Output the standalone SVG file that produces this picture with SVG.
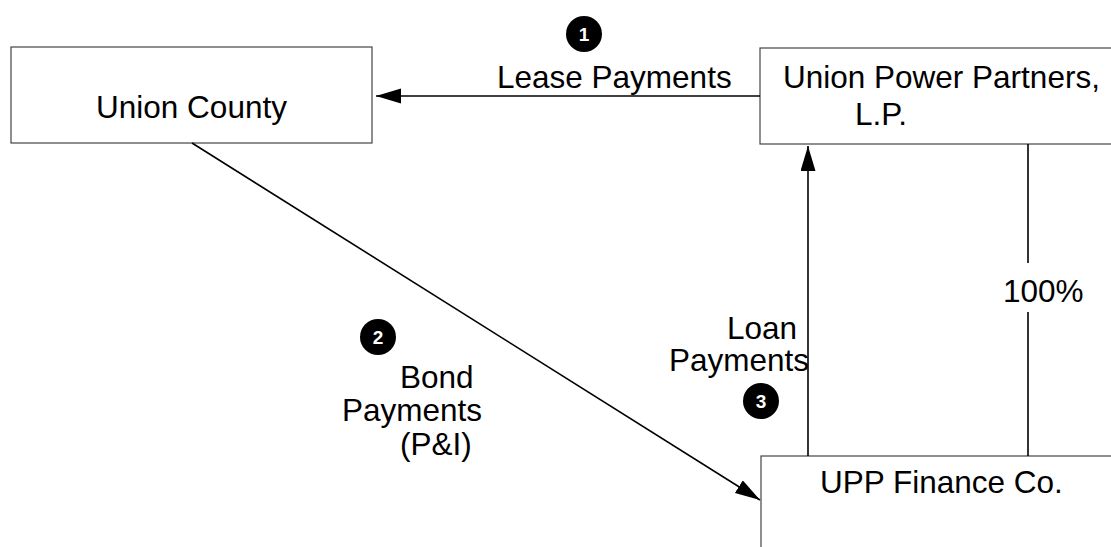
<svg xmlns="http://www.w3.org/2000/svg" width="1111" height="547" viewBox="0 0 1111 547">
<defs>
<style>
.box{fill:#fff;stroke:#444;stroke-width:1.2}
.lbl{font-family:"Liberation Sans",Arial,sans-serif;font-size:31.5px;fill:#000}
.conn{stroke:#000;stroke-width:1.6;fill:none}
.badge{fill:#000}
.num{font-family:"Liberation Sans",Arial,sans-serif;font-size:19px;font-weight:bold;fill:#fff;text-anchor:middle}
</style>
<marker id="arr" markerUnits="userSpaceOnUse" markerWidth="26" markerHeight="16" refX="25" refY="7.5" orient="auto">
<path d="M0,0 L25,7.5 L0,15 Z" fill="#000"/>
</marker>
</defs>
<rect width="1111" height="547" fill="#fff"/>
<g id="union-county">
<rect class="box" x="11" y="47" width="361" height="96"/>
<text class="lbl" x="191.5" y="118" text-anchor="middle">Union County</text>
</g>
<g id="union-power-partners">
<rect class="box" x="760" y="48" width="360" height="96"/>
<text class="lbl" x="783" y="88">Union Power Partners,</text>
<text class="lbl" x="855" y="125">L.P.</text>
</g>
<g id="upp-finance">
<rect class="box" x="761" y="456" width="360" height="100"/>
<text class="lbl" x="820" y="493">UPP Finance Co.</text>
</g>
<g id="connectors">
<line class="conn" x1="760" y1="96" x2="376" y2="96" marker-end="url(#arr)"/>
<line class="conn" x1="808" y1="456" x2="808" y2="146" marker-end="url(#arr)"/>
<line class="conn" x1="192" y1="143" x2="760" y2="500" marker-end="url(#arr)"/>
<line class="conn" x1="1028" y1="144" x2="1028" y2="263"/>
<line class="conn" x1="1028" y1="312" x2="1028" y2="456"/>
</g>
<g id="labels">
<text class="lbl" x="497" y="88">Lease Payments</text>
<text class="lbl" x="400" y="388">Bond</text>
<text class="lbl" x="342" y="421">Payments</text>
<text class="lbl" x="400" y="455">(P&amp;I)</text>
<text class="lbl" x="797" y="339" text-anchor="end">Loan</text>
<text class="lbl" x="809" y="371" text-anchor="end">Payments</text>
<text class="lbl" x="1003" y="302">100%</text>
</g>
<g id="badge-1">
<circle class="badge" cx="584" cy="34" r="18"/>
<text class="num" x="584" y="41">1</text>
</g>
<g id="badge-2">
<circle class="badge" cx="378" cy="337" r="18"/>
<text class="num" x="378" y="344">2</text>
</g>
<g id="badge-3">
<circle class="badge" cx="761" cy="401" r="18"/>
<text class="num" x="761" y="408">3</text>
</g>
</svg>
